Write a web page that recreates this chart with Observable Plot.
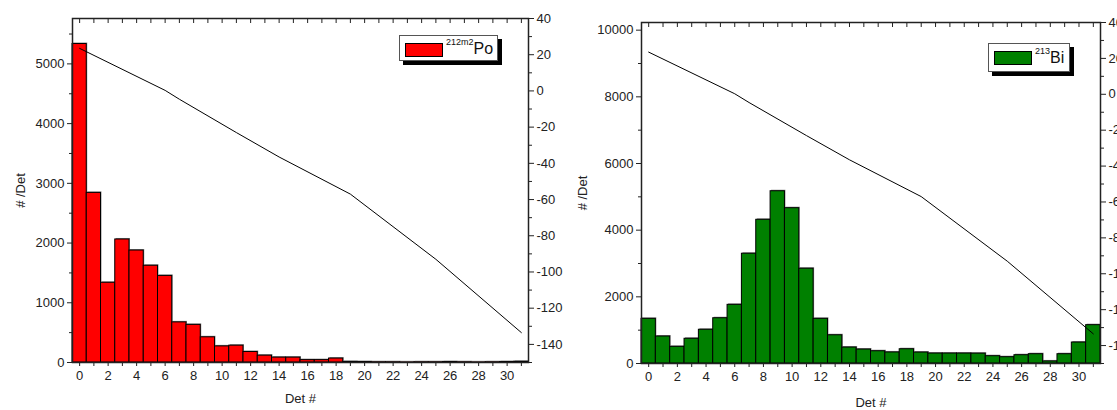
<!DOCTYPE html>
<html><head><meta charset="utf-8">
<script src="https://cdn.jsdelivr.net/npm/d3@7"></script>
<script src="https://cdn.jsdelivr.net/npm/@observablehq/plot@0.6"></script>
<style>
body{margin:0;background:#fff;width:1117px;height:410px;overflow:hidden;font-family:"Liberation Sans",Arial,sans-serif;}
#wrap{position:relative;width:1117px;height:410px;overflow:hidden;}
.layer{position:absolute;top:0;}
.legend{position:absolute;background:#fff;border:1px solid #555;box-shadow:4px 4px 0 #000;box-sizing:border-box;}
.sw{position:absolute;border:1px solid #000;box-sizing:border-box;}
.lt{position:absolute;font-size:16px;color:#111;white-space:nowrap;line-height:1;}
.lt sup{font-size:9px;vertical-align:top;position:relative;top:-3px;}
</style></head>
<body><div id="wrap"></div>
<script>
// ---- data ----
const dets = [0,1,2,3,4,5,6,7,8,9,10,11,12,13,14,15,16,17,18,19,20,21,22,23,24,25,26,27,28,29,30,31];
const po212m2 = [5333,2840,1335,2060,1875,1620,1450,672,630,422,270,282,176,115,82,82,40,40,66,10,8,5,5,3,5,5,8,5,3,5,8,12];
const bi213 = [1340,810,500,742,1012,1358,1760,3293,4311,5168,4659,2844,1340,847,479,419,368,332,428,329,299,299,299,296,219,189,249,279,62,279,629,1150];
const lineDets = [0,6,7,11,14,19,25,31];
const lineVals = [23.5,0.3,-4.6,-23,-36.5,-57,-93,-133.5];
const xLabeled = [0,2,4,6,8,10,12,14,16,18,20,22,24,26,28,30];
const leftMajor = [0,1000,2000,3000,4000,5000];
const leftMinor = [500,1500,2500,3500,4500,5500];
const rightMajor2 = [0,2000,4000,6000,8000,10000];
const rightMinor2 = [1000,3000,5000,7000,9000];
const secMajor = [-140,-120,-100,-80,-60,-40,-20,0,20,40];
const secMinor = [-150,-130,-110,-90,-70,-50,-30,-10,10,30];

const lineData = lineDets.map((d,i)=>({det:d, v:lineVals[i]}));
const wrap = document.getElementById("wrap");
const font = {background:"transparent", overflow:"visible", fontFamily:"'Liberation Sans', Arial, sans-serif", fontSize:"13px", color:"#222", maxWidth:"none"};
const plain = d => String(d);

function panel(cfg){
  const data = dets.map((d,i)=>({det:d, v:cfg.values[i]}));
  const dims = {width:558, height:410, marginLeft:cfg.ml, marginRight:cfg.mr, marginTop:cfg.mt, marginBottom:cfg.mb};
  const main = Plot.plot({
    ...dims, style:font,
    x:{domain:[-0.5,31.5]},
    y:{domain:[0,cfg.ymax]},
    marks:[
      Plot.rectY(data,{x1:d=>d.det-0.5, x2:d=>d.det+0.5, y:"v", fill:"#8a8a8a", dx:1, dy:-1}),
      Plot.rectY(data,{x1:d=>d.det-0.5, x2:d=>d.det+0.5, y:"v", fill:cfg.color, stroke:"#000", strokeWidth:1}),
      Plot.axisX({ticks:dets, tickSize:4, tickPadding:4, tickFormat:d=>xLabeled.includes(d)?String(d):"", label:"Det #", labelAnchor:"center", labelOffset:cfg.xlo, labelArrow:"none"}),
      Plot.axisX({anchor:"top", ticks:dets, tickSize:4, dy:4, tickFormat:()=>"", label:null}),
      Plot.axisY({ticks:cfg.major, tickSize:5, tickPadding:3, tickFormat:plain, label:"# /Det", labelAnchor:"center", labelOffset:cfg.ylo, labelArrow:"none"}),
      Plot.axisY({ticks:cfg.minor, tickSize:3, tickFormat:()=>"", label:null}),
      Plot.frame({stroke:"#222", strokeWidth:1.5})
    ]
  });
  const over = Plot.plot({
    ...dims, style:font,
    x:{domain:[-0.5,31.5], axis:null},
    y:{domain:[-150,40]},
    marks:[
      Plot.line(lineData,{x:"det", y:"v", stroke:"#000", strokeWidth:1}),
      Plot.axisY({anchor:"right", ticks:secMajor, tickSize:5, tickPadding:3, tickFormat:plain, label:null}),
      Plot.axisY({anchor:"right", ticks:secMinor, tickSize:3, tickFormat:()=>"", label:null})
    ]
  });
  for (const s of [main, over]) { s.classList.add("layer"); s.style.left = cfg.left+"px"; wrap.appendChild(s); }
  const lg = document.createElement("div");
  lg.className = "legend";
  Object.assign(lg.style,{left:cfg.lg[0]+"px", top:cfg.lg[1]+"px", width:cfg.lg[2]+"px", height:cfg.lg[3]+"px"});
  wrap.appendChild(lg);
  const sw = document.createElement("div");
  sw.className = "sw";
  Object.assign(sw.style,{left:(cfg.lg[0]+6)+"px", top:(cfg.lg[1]+8)+"px", width:"38px", height:"14px", background:cfg.color});
  wrap.appendChild(sw);
  const t = document.createElement("div");
  t.className = "lt";
  t.innerHTML = "<sup>"+cfg.sup+"</sup>"+cfg.el;
  Object.assign(t.style,{left:(cfg.lg[0]+47)+"px", top:(cfg.lg[1]+cfg.ty)+"px"});
  wrap.appendChild(t);
}

panel({left:0, values:po212m2, color:"#ff0000", ymax:5760, major:leftMajor, minor:leftMinor,
  ml:72, mr:30, mt:18, mb:48, xlo:40, ylo:57, lg:[399,35,99,26], sup:"212m2", el:"Po", ty:6});
panel({left:559, values:bi213, color:"#008000", ymax:10230, major:rightMajor2, minor:rightMinor2,
  ml:82, mr:17, mt:22, mb:47, xlo:43, ylo:64, lg:[988,43,82,29], sup:"213", el:"Bi", ty:7});
</script></body></html>
